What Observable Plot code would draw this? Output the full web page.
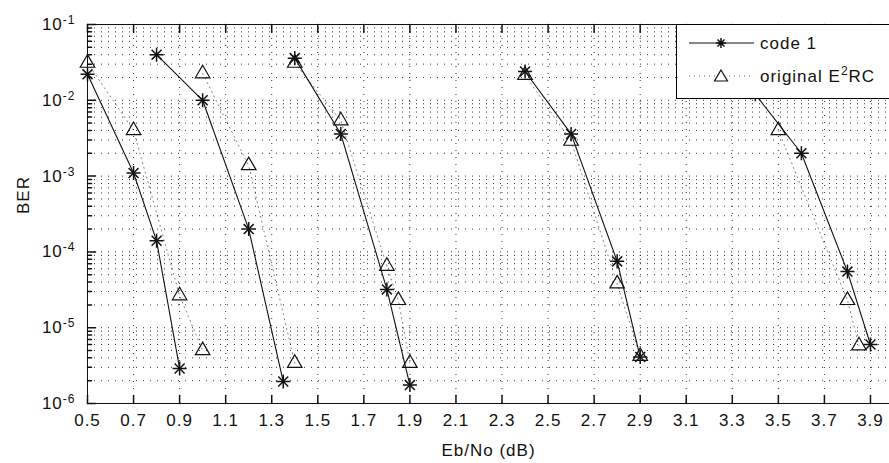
<!DOCTYPE html>
<html><head><meta charset="utf-8">
<script src="https://cdn.jsdelivr.net/npm/d3@7"></script>
<script src="https://cdn.jsdelivr.net/npm/@observablehq/plot@0.6"></script>
<style>
body{margin:0;background:#fff;}
#wrap{position:relative;width:889px;height:463px;overflow:hidden;font-family:"Liberation Sans",Arial,sans-serif;}
#legend{position:absolute;left:676px;top:24px;width:240px;height:75px;border:1px solid #000;background:#fff;box-sizing:border-box;}
#legend svg{display:block;overflow:visible;}
</style></head><body><div id="wrap"></div>
<script>
// ---- data ----
const xTicks = [0.5,0.7,0.9,1.1,1.3,1.5,1.7,1.9,2.1,2.3,2.5,2.7,2.9,3.1,3.3,3.5,3.7,3.9];
const yMajor = [1e-6,1e-5,1e-4,1e-3,1e-2,1e-1];
const yMinorMult = [2,3,4,5,6,7,8,9];
const xLabel = "Eb/No (dB)";
const yLabel = "BER";
const seriesNames = ["code 1", "original E2RC"];

// code 1 (stars, solid line), one run per group
const codeSnr = [0.5,0.7,0.8,0.9, 0.8,1.0,1.2,1.35, 1.4,1.6,1.8,1.9, 2.4,2.6,2.8,2.9, 3.4,3.6,3.8,3.9];
const codeBer = [0.022,0.0011,1.4e-4,2.9e-6, 0.040,0.0100,2.0e-4,1.95e-6, 0.036,0.0036,3.2e-5,1.75e-6, 0.024,0.0036,7.5e-5,4.1e-6, 0.012,0.0020,5.5e-5,6.0e-6];
const codeRun = [1,1,1,1, 2,2,2,2, 3,3,3,3, 4,4,4,4, 5,5,5,5];

// original E2RC (triangles, dotted line)
const origSnr = [0.5,0.7,0.9,1.0, 1.0,1.2,1.4, 1.4,1.6,1.8,1.85,1.9, 2.4,2.6,2.8,2.9, 3.5,3.8,3.85];
const origBer = [0.031,0.0040,2.65e-5,5.0e-6, 0.0225,0.00138,3.4e-6, 0.031,0.0054,6.5e-5,2.3e-5,3.4e-6, 0.0215,0.0029,3.8e-5,4.2e-6, 0.0040,2.3e-5,5.8e-6];
const origRun = [1,1,1,1, 2,2,2, 3,3,3,3,3, 4,4,4,4, 5,5,5];

// ---- tables ----
const code = codeSnr.map((x,i)=>({x, y: codeBer[i], run: codeRun[i]}));
const orig = origSnr.map((x,i)=>({x, y: origBer[i], run: origRun[i]}));
const yMinor = yMajor.slice(0,-1).flatMap(m => yMinorMult.map(k => k*m));
const yGrid = yMajor.concat(yMinor);

const ink = "#111";
const tickShape = {draw(ctx, l){ ctx.moveTo(0,0); ctx.lineTo(0,-l); }};
const dotted = {stroke: "#000", strokeDasharray: "1,6", strokeOpacity: 0.8, strokeWidth: 1};

const chart = Plot.plot({
  width: 889, height: 463,
  marginLeft: 87, marginTop: 24, marginBottom: 60, marginRight: 0,
  x: {domain: [0.5, 4.0], range: [87, 893]},
  y: {type: "log", domain: [1e-6, 1e-1]},
  style: {fontFamily: '"Liberation Sans", Arial, sans-serif', fontSize: "17px", color: ink, background: "#fff", letterSpacing: "1px"},
  marks: [
    Plot.ruleY(yGrid, {y: d => d, ...dotted}),
    Plot.ruleX(xTicks, {x: d => d, ...dotted}),
    Plot.line(code, {x: "x", y: "y", z: "run", stroke: ink, strokeWidth: 1.1}),
    Plot.line(orig, {x: "x", y: "y", z: "run", stroke: ink, strokeWidth: 1, strokeDasharray: "1,4", strokeOpacity: 0.55}),
    Plot.dot(code, {x: "x", y: "y", symbol: "plus", r: 4.6, stroke: ink, strokeWidth: 1.5}),
    Plot.dot(code, {x: "x", y: "y", symbol: "times", r: 4.6, stroke: ink, strokeWidth: 1.5}),
    Plot.dot(orig, {x: "x", y: "y", symbol: "triangle", r: 5.4, stroke: ink, fill: "none", strokeWidth: 1.2}),
    Plot.ruleX([0.5], {x: d => d, stroke: ink}),
    Plot.ruleY([1e-6, 1e-1], {y: d => d, stroke: ink}),
    Plot.vector(xTicks, {x: d => d, y: () => 1e-6, length: 8, rotate: 0, anchor: "start", shape: tickShape, stroke: ink}),
    Plot.vector(xTicks, {x: d => d, y: () => 1e-1, length: 8, rotate: 180, anchor: "start", shape: tickShape, stroke: ink}),
    Plot.vector(yMajor, {x: () => 0.5, y: d => d, length: 8, rotate: 90, anchor: "start", shape: tickShape, stroke: ink}),
    Plot.vector(yMinor, {x: () => 0.5, y: d => d, length: 4, rotate: 90, anchor: "start", shape: tickShape, stroke: ink}),
    Plot.axisX({ticks: xTicks, tickSize: 0, tickPadding: 10, tickFormat: d3.format(".1f"), label: null}),
    Plot.axisY({ticks: yMajor, tickSize: 0, tickPadding: 12, tickFormat: d => "10^" + Math.round(Math.log10(d)), label: null}),
    Plot.text([xLabel], {text: d => d, frameAnchor: "bottom", dy: 52, lineAnchor: "bottom", fill: ink}),
    Plot.text([yLabel], {text: d => d, frameAnchor: "left", dx: -64, rotate: -90, fill: ink})
  ]
});

// superscript exponents on y tick labels
const svgNS = "http://www.w3.org/2000/svg";
chart.querySelectorAll('g[aria-label="y-axis tick label"] text').forEach(t => {
  const [b, e] = t.textContent.split("^");
  t.textContent = b;
  const ts = document.createElementNS(svgNS, "tspan");
  ts.setAttribute("dy", "-0.5em");
  ts.setAttribute("font-size", "12px");
  ts.textContent = e;
  t.appendChild(ts);
});

const wrap = document.getElementById("wrap");
wrap.appendChild(chart);

// legend box (overlay, opaque like MATLAB)
const leg = document.createElement("div");
leg.id = "legend";
leg.innerHTML = `<svg width="240" height="73" style="font-family:'Liberation Sans',Arial,sans-serif;font-size:17px;letter-spacing:1px;fill:${ink}">
  <line x1="12" y1="18" x2="77" y2="18" stroke="${ink}" stroke-width="1.1"/>
  <path d="M44,13V23M39,18H49M40.5,14.5L47.5,21.5M40.5,21.5L47.5,14.5" stroke="${ink}" stroke-width="1.5" fill="none"/>
  <text x="83" y="24">${seriesNames[0]}</text>
  <line x1="12" y1="51" x2="77" y2="51" stroke="${ink}" stroke-dasharray="1,4" stroke-opacity="0.7"/>
  <path d="M44,45L50.5,56H37.5Z" stroke="${ink}" stroke-width="1.2" fill="#fff"/>
  <text x="83" y="57">original E<tspan dy="-7" font-size="12px">2</tspan><tspan dy="7">RC</tspan></text>
</svg>`;
wrap.appendChild(leg);
</script></body></html>
